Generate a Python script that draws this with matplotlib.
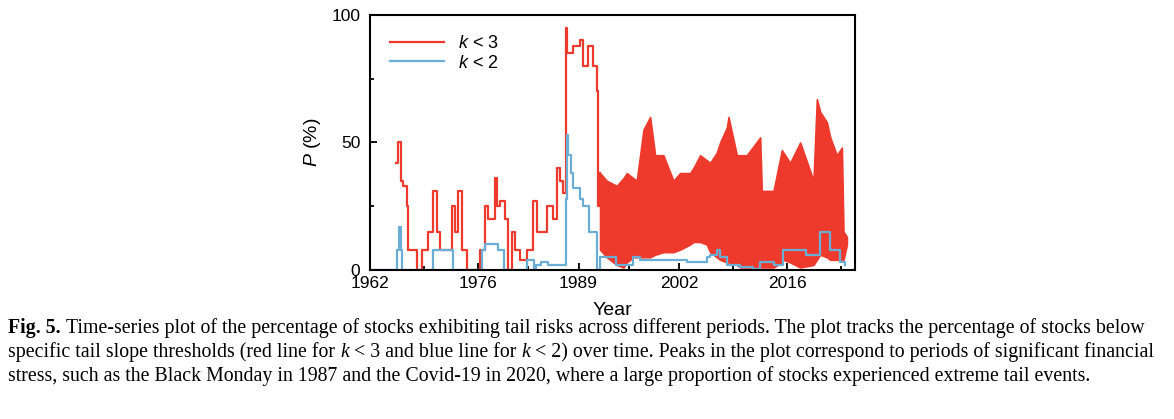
import matplotlib as mpl

mpl.use("Agg")
import matplotlib.pyplot as plt
from matplotlib.ticker import MultipleLocator, FixedLocator

# --- k < 3 (red), early period as step series ---
red_years = [1965.37, 1965.67, 1966.02, 1966.32, 1966.75, 1966.97, 1967.83, 1968.04, 1968.69,
             1969.56, 1970.2, 1970.64, 1971.07, 1972.36, 1972.58, 1973.0, 1973.44, 1973.87,
             1974.52, 1975.82, 1976.25, 1976.9, 1977.33, 1978.19, 1978.41, 1978.84, 1979.49,
             1979.92, 1980.35, 1980.78, 1981.43, 1982.29, 1983.16, 1983.59, 1984.45, 1984.88,
             1985.75, 1986.18, 1986.61, 1987.04, 1987.39, 1987.56, 1988.34, 1989.2, 1989.63,
             1990.28, 1990.93, 1991.36, 1991.58, 1991.79]
red_vals = [42, 50, 35, 33, 25, 8, 8, 0, 8,
            15, 31, 15, 8, 8, 25, 15, 31, 8,
            0, 0, 8, 25, 20, 36, 25, 27, 20,
            0, 15, 8, 4, 8, 27, 15, 15, 25,
            20, 40, 35, 30, 95, 85, 88, 90, 80,
            88, 80, 70, 25, 38]

# --- k < 3 after 1992: rapidly oscillating band (upper / lower envelopes) ---
band_years = [1991.79, 1992.66, 1993.95, 1994.82, 1995.25, 1996.11, 1996.54, 1997.41, 1998.27,
              1998.92, 1999.99, 2001.29, 2002.16, 2003.45, 2003.88, 2004.75, 2005.61, 2006.04,
              2006.9, 2007.34, 2008.22, 2008.42, 2009.5, 2009.93, 2010.79, 2012.52, 2012.73,
              2014.25, 2015.33, 2015.54, 2016.4, 2017.7, 2019.43, 2019.86, 2020.29, 2021.15,
              2021.59, 2022.45, 2023.1, 2023.31, 2023.75]
band_high = [38, 35, 33, 36, 38, 36, 35, 55, 60,
             45, 45, 35, 38, 38, 40, 45, 43, 42,
             46, 50, 56, 60, 45, 45, 45, 52, 31,
             31, 47, 46, 42, 50, 35, 67, 62, 58,
             52, 45, 48, 15, 13]
band_low = [8, 5, 2, 1, 3, 5, 5, 5, 5,
            6, 7, 7, 8, 10, 11, 11, 10, 7,
            5, 4, 3, 3, 2, 1, 1, 1, 1,
            1, 3, 4, 3, 1, 2, 4, 6, 5,
            4, 4, 4, 4, 10]

# --- k < 2 (blue) ---
blue_years = [1962, 1965.37, 1965.5, 1965.75, 1966.0, 1966.1, 1970.2, 1972.8, 1974.5,
              1976.5, 1976.9, 1977.5, 1978.6, 1979.4, 1979.7, 1982.3, 1983.2, 1983.5,
              1984.2, 1985.0, 1986.9, 1987.35, 1987.5, 1987.7, 1988.0, 1988.3, 1989.2,
              1989.6, 1990.3, 1991.36, 1991.45, 1991.8, 1992.6, 1993.9, 1996.1, 1997.0,
              2000.0, 2003.0, 2005.6, 2006.0, 2006.9, 2007.3, 2008.2, 2009.9, 2011.6,
              2012.5, 2014.3, 2015.5, 2018.5, 2020.3, 2021.6, 2022.9, 2023.5]
blue_vals = [0, 0, 8, 17, 8, 0, 8, 0, 0,
             8, 10, 10, 8, 0, 0, 4, 0, 2,
             3, 2, 2, 28, 53, 45, 38, 32, 28,
             25, 15, 15, 0, 5, 5, 2, 5, 4,
             4, 3, 5, 6, 8, 5, 2, 1, 0.5,
             3, 2, 8, 6, 15, 8, 3, 2]

RED = "#ee3a2c"
BLUE = "#6aaed6"
SANS = "Liberation Sans"
SERIF = "Liberation Serif"

plt.rcParams["mathtext.fontset"] = "custom"
plt.rcParams["mathtext.it"] = "Liberation Sans:italic"
plt.rcParams["mathtext.rm"] = "Liberation Sans"

fig = plt.figure(figsize=(11.74, 4.19), dpi=100)
ax = fig.add_axes([370 / 1174, 1 - 270 / 419, 485 / 1174, 255 / 419])

ax.step(red_years, red_vals, where="post", color=RED, lw=1.6, label="$k$ < 3")
ax.fill_between(band_years, band_low, band_high, color=RED, lw=1.2, edgecolor=RED)
ax.step(blue_years, blue_vals, where="post", color=BLUE, lw=1.6, label="$k$ < 2")

ax.set_xlim(1962, 2024.8)
ax.set_ylim(0, 100)
ax.xaxis.set_major_locator(FixedLocator([1962, 1976, 1989, 2002, 2016]))
ax.xaxis.set_minor_locator(FixedLocator([1969, 1982.5, 1995.5, 2009, 2023]))
ax.yaxis.set_major_locator(MultipleLocator(50))
ax.yaxis.set_minor_locator(MultipleLocator(25))
ax.tick_params(which="both", direction="in", width=1.3, labelsize=12.5)
ax.tick_params(axis="x", pad=4)
ax.tick_params(axis="y", pad=7)
ax.tick_params(which="major", length=5)
ax.tick_params(which="minor", length=3)
for lab in ax.get_xticklabels() + ax.get_yticklabels():
    lab.set_family(SANS)
for s in ax.spines.values():
    s.set_linewidth(1.5)
ax.set_xlabel("Year", family=SANS, fontsize=14, labelpad=8)
ax.set_ylabel("$P$ (%)", family=SANS, fontsize=14, labelpad=6)
ax.legend(loc="upper left", frameon=False, handlelength=3.0, borderaxespad=0.5,
          labelspacing=0.15, borderpad=0.6, prop={"family": SANS, "size": 13})

# --- caption, drawn piece by piece so bold and italic runs line up ---
fig.canvas.draw()
renderer = fig.canvas.get_renderer()
CAP_SIZE = 14.3


def caption_line(y_px, pieces):
    x = 8
    for txt, weight, style in pieces:
        t = fig.text(x / 1174, 1 - y_px / 419, txt, family=SERIF, fontsize=CAP_SIZE,
                     weight=weight, style=style, va="baseline", ha="left")
        x += t.get_window_extent(renderer).width


N, B, I = "normal", "bold", "italic"
caption_line(333, [("Fig. 5.", B, N),
                   ("\u00a0Time-series plot of the percentage of stocks exhibiting tail risks across different periods. The plot tracks the percentage of stocks below", N, N)])
caption_line(357, [("specific tail slope thresholds (red line for\u00a0", N, N), ("k", N, I),
                   ("\u00a0<\u00a03 and blue line for\u00a0", N, N), ("k", N, I),
                   ("\u00a0<\u00a02) over time. Peaks in the plot correspond to periods of significant financial", N, N)])
caption_line(381, [("stress, such as the Black Monday in 1987 and the Covid-19 in 2020, where a large proportion of stocks experienced extreme tail events.", N, N)])

fig.savefig("out.png", dpi=100)
